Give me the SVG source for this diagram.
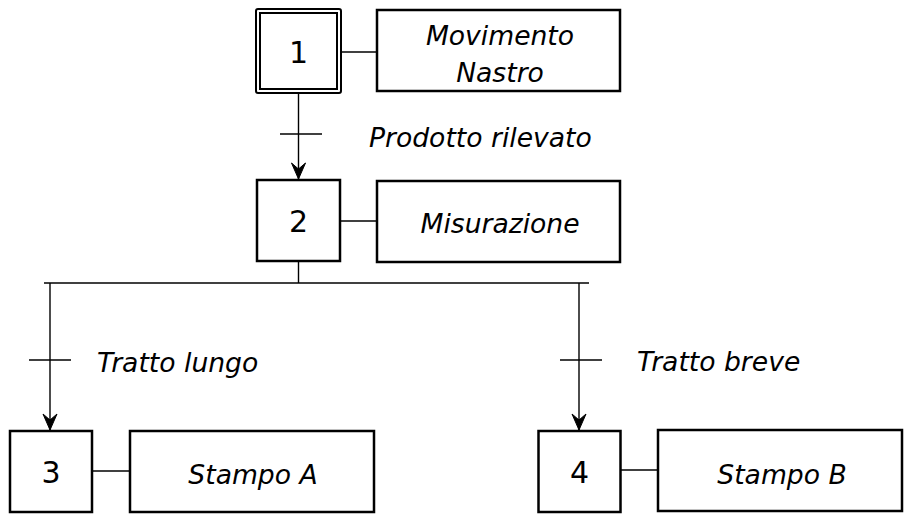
<svg xmlns="http://www.w3.org/2000/svg" width="916" height="524" viewBox="0 0 916 524">
<defs>
<style>
.step{fill:#fff;stroke:#000;stroke-width:2.5}
.act{fill:#fff;stroke:#000;stroke-width:2.5}
.ln{fill:none;stroke:#000;stroke-width:1.4}
.num{font-family:"DejaVu Sans",Verdana,sans-serif;font-size:30px;text-anchor:middle}
.lbl{font-family:"DejaVu Sans",Verdana,sans-serif;font-size:26.6px;font-style:italic}
.ctr{text-anchor:middle}
</style>
<marker id="arr" markerWidth="18" markerHeight="16" viewBox="-17 -8 18 16" refX="0" refY="0" orient="auto" markerUnits="userSpaceOnUse">
<path d="M0,0 L-16,-7 L-10,0 L-16,7 Z" fill="#000" stroke="#000" stroke-width="1" stroke-linejoin="miter"/>
</marker>
</defs>
<rect width="916" height="524" fill="#fff"/>
<g id="connectors">
<line class="ln" x1="341" y1="52" x2="377" y2="52"/>
<line class="ln" x1="340" y1="221" x2="377" y2="221"/>
<line class="ln" x1="92" y1="471" x2="130" y2="471"/>
<line class="ln" x1="621" y1="470" x2="658" y2="470"/>
<line class="ln" x1="298.5" y1="93" x2="298.5" y2="179" marker-end="url(#arr)"/>
<line class="ln" x1="280" y1="134" x2="322" y2="134"/>
<line class="ln" x1="298.5" y1="261" x2="298.5" y2="283"/>
<line class="ln" x1="44" y1="283" x2="589" y2="283"/>
<line class="ln" x1="50" y1="283" x2="50" y2="430" marker-end="url(#arr)"/>
<line class="ln" x1="29" y1="360" x2="71" y2="360"/>
<line class="ln" x1="579" y1="283" x2="579" y2="430" marker-end="url(#arr)"/>
<line class="ln" x1="560" y1="360" x2="602" y2="360"/>
<text class="lbl" x="369" y="147">Prodotto rilevato</text>
<text class="lbl" x="97" y="372">Tratto lungo</text>
<text class="lbl" x="637" y="371">Tratto breve</text>
</g>
<g id="step1">
<rect x="256" y="9" width="85" height="84" rx="2" fill="#fff" stroke="#000" stroke-width="2"/>
<rect x="260" y="13" width="77" height="76" fill="none" stroke="#000" stroke-width="2"/>
<text class="num" x="298.5" y="63">1</text>
</g>
<g id="action1">
<rect class="act" x="377" y="10" width="243" height="81"/>
<text class="lbl ctr" x="500" y="45">Movimento</text>
<text class="lbl ctr" x="500" y="82">Nastro</text>
</g>
<g id="step2">
<rect class="step" x="257" y="180" width="83" height="81"/>
<text class="num" x="298.5" y="232">2</text>
</g>
<g id="action2">
<rect class="act" x="377" y="181" width="243" height="81"/>
<text class="lbl ctr" x="500" y="233">Misurazione</text>
</g>
<g id="step3">
<rect class="step" x="10" y="431" width="82" height="81"/>
<text class="num" x="51" y="483">3</text>
</g>
<g id="action3">
<rect class="act" x="130" y="431" width="244" height="81"/>
<text class="lbl ctr" x="253" y="484">Stampo A</text>
</g>
<g id="step4">
<rect class="step" x="538.5" y="431" width="82" height="81"/>
<text class="num" x="579.5" y="483">4</text>
</g>
<g id="action4">
<rect class="act" x="658" y="430" width="244" height="81"/>
<text class="lbl ctr" x="782" y="484">Stampo B</text>
</g>
</svg>
